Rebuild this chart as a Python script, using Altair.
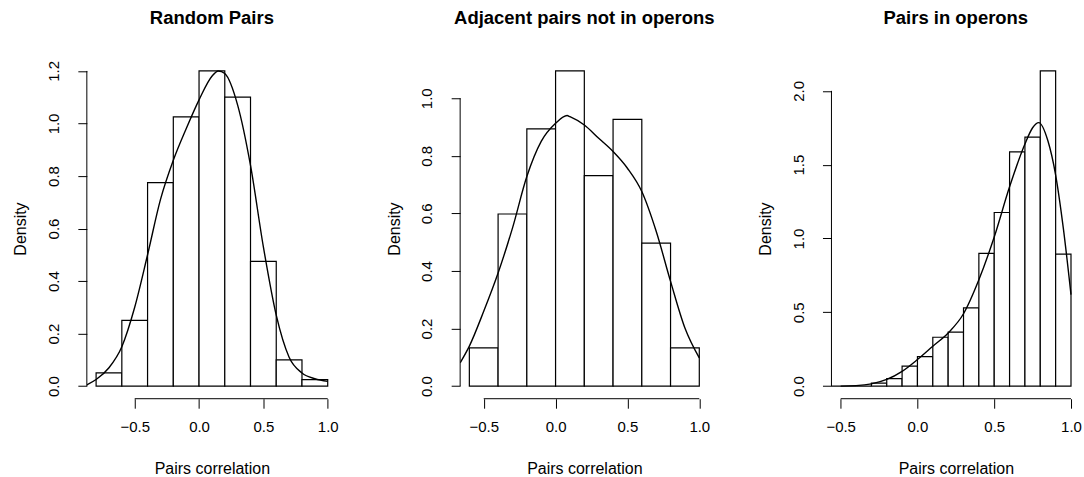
import altair as alt
import pandas as pd

FONT = "Liberation Sans"

# ---------------- data ----------------
# Panel 1: Random Pairs
p1_lo = [-0.8, -0.6, -0.4, -0.2, 0.0, 0.2, 0.4, 0.6, 0.8]
p1_hi = [-0.6, -0.4, -0.2, 0.0, 0.2, 0.4, 0.6, 0.8, 1.0]
p1_dens = [0.05, 0.25, 0.775, 1.025, 1.2, 1.1, 0.475, 0.1, 0.025]
p1_cx = [-0.872, -0.8, -0.7, -0.6, -0.5, -0.4, -0.3, -0.2, -0.1, 0.0, 0.1, 0.15, 0.2,
         0.3, 0.4, 0.5, 0.6, 0.7, 0.8, 0.9, 1.0]
p1_cy = [0.005, 0.025, 0.07, 0.15, 0.3, 0.5, 0.71, 0.86, 0.98, 1.09, 1.18, 1.2, 1.19,
         1.07, 0.84, 0.53, 0.27, 0.11, 0.05, 0.028, 0.018]
p1_yticks = [0.0, 0.2, 0.4, 0.6, 0.8, 1.0, 1.2]

# Panel 2: Adjacent pairs not in operons
p2_lo = [-0.6, -0.4, -0.2, 0.0, 0.2, 0.4, 0.6, 0.8]
p2_hi = [-0.4, -0.2, 0.0, 0.2, 0.4, 0.6, 0.8, 1.0]
p2_dens = [0.133, 0.598, 0.894, 1.095, 0.731, 0.927, 0.497, 0.133]
p2_cx = [-0.664, -0.6, -0.5, -0.4, -0.3, -0.2, -0.1, 0.0, 0.08, 0.1, 0.2, 0.3, 0.4,
         0.5, 0.6, 0.7, 0.8, 0.9, 1.0]
p2_cy = [0.081, 0.139, 0.26, 0.393, 0.549, 0.728, 0.85, 0.913, 0.94, 0.936, 0.907,
         0.861, 0.815, 0.757, 0.676, 0.538, 0.364, 0.202, 0.098]
p2_yticks = [0.0, 0.2, 0.4, 0.6, 0.8, 1.0]

# Panel 3: Pairs in operons
p3_lo = [-0.5, -0.4, -0.3, -0.2, -0.1, 0.0, 0.1, 0.2, 0.3, 0.4, 0.5, 0.6, 0.7, 0.8, 0.9]
p3_hi = [-0.4, -0.3, -0.2, -0.1, 0.0, 0.1, 0.2, 0.3, 0.4, 0.5, 0.6, 0.7, 0.8, 0.9, 1.0]
p3_dens = [0.0, 0.0, 0.02, 0.05, 0.135, 0.2, 0.331, 0.365, 0.53, 0.899, 1.176, 1.587,
           1.686, 2.135, 0.894]
p3_cx = [-0.56, -0.5, -0.4, -0.3, -0.2, -0.1, 0.0, 0.1, 0.2, 0.3, 0.4, 0.5, 0.6, 0.7,
         0.75, 0.79, 0.85, 0.9, 0.95, 1.0]
p3_cy = [0.0, 0.0, 0.003, 0.015, 0.045, 0.1, 0.18, 0.27, 0.36, 0.49, 0.72, 1.01, 1.35,
         1.64, 1.75, 1.785, 1.66, 1.43, 1.07, 0.62]
p3_yticks = [0.0, 0.5, 1.0, 1.5, 2.0]

x_ticks = [-0.5, 0.0, 0.5, 1.0]
titles = ["Random Pairs", "Adjacent pairs not in operons", "Pairs in operons"]

H = 341


def r_range(lo, hi):
    d = (hi - lo) * 0.04
    return [lo - d, hi + d]


def panel(title, lo, hi, dens, cx, cy, yticks, width):
    xdom = r_range(min(lo), max(hi))
    ydom = r_range(0.0, max(max(dens), max(cy)))
    xs = alt.Scale(domain=xdom, nice=False, zero=False)
    ys = alt.Scale(domain=ydom, nice=False, zero=False)

    xaxis = alt.Axis(values=x_ticks, format=".1f", domain=False, grid=False,
                     tickSize=9.5, tickColor="black", tickWidth=1,
                     labelFont=FONT, labelFontSize=15, labelColor="black",
                     labelPadding=11, labelFlush=False, labelOverlap=False,
                     title="Pairs correlation", titleFont=FONT, titleFontSize=16,
                     titleFontWeight="normal", titleColor="black",
                     titleX=width / 2, titleY=69.5, titleAlign="center",
                     titleBaseline="middle", titleAngle=0)
    yaxis = alt.Axis(values=yticks, format=".1f", domain=False, grid=False,
                     tickSize=9, tickColor="black", tickWidth=1,
                     labelFont=FONT, labelFontSize=15, labelColor="black",
                     labelAngle=270, labelAlign="center", labelBaseline="alphabetic",
                     labelPadding=19.5, labelFlush=False, labelOverlap=False,
                     title="Density", titleFont=FONT, titleFontSize=16,
                     titleFontWeight="normal", titleColor="black",
                     titleX=-66, titleY=H / 2, titleAlign="center",
                     titleBaseline="middle", titleAngle=270)

    bars_df = pd.DataFrame({"lo": lo, "hi": hi, "d": dens, "z": [0.0] * len(lo)})
    curve_df = pd.DataFrame({"lo": cx, "d": cy})
    xline_df = pd.DataFrame({"lo": [x_ticks[0]], "hi": [x_ticks[-1]], "d": [ydom[0]]})
    yline_df = pd.DataFrame({"lo": [xdom[0]], "d": [yticks[0]], "z": [yticks[-1]]})

    X = alt.X("lo:Q", scale=xs, axis=xaxis)
    Y = alt.Y("d:Q", scale=ys, axis=yaxis)

    bars = alt.Chart(bars_df).mark_rect(fill="white", stroke="black",
                                        strokeWidth=1.2).encode(
        x=X, x2="hi:Q", y=Y, y2="z:Q",
    )
    curve = alt.Chart(curve_df).mark_line(color="black", strokeWidth=1.4,
                                          interpolate="monotone", clip=True).encode(
        x=X, y=Y, order=alt.Order("lo:Q"),
    )
    xline = alt.Chart(xline_df).mark_rule(color="black", strokeWidth=1).encode(
        x=X, x2="hi:Q", y=Y,
    )
    yline = alt.Chart(yline_df).mark_rule(color="black", strokeWidth=1).encode(
        x=X, y=Y, y2="z:Q",
    )
    return alt.layer(bars, curve, xline, yline).properties(
        width=width, height=H,
        title=alt.TitleParams(text=title, font=FONT, fontSize=18.5, fontWeight="bold",
                              color="black", anchor="middle", frame="group",
                              baseline="alphabetic", offset=15.5),
    )


c1 = panel(titles[0], p1_lo, p1_hi, p1_dens, p1_cx, p1_cy, p1_yticks, 250.6)
c2 = panel(titles[1], p2_lo, p2_hi, p2_dens, p2_cx, p2_cy, p2_yticks, 248.8)
c3 = panel(titles[2], p3_lo, p3_hi, p3_dens, p3_cx, p3_cy, p3_yticks, 249.2)

chart = alt.hconcat(c1, c2, c3, spacing=123, bounds="flush").properties(
    padding={"left": 13, "top": 9, "right": 2, "bottom": 2},
    background="white",
).configure_view(stroke=None)

chart.save("out.html", embed_options={"renderer": "svg", "actions": False})
